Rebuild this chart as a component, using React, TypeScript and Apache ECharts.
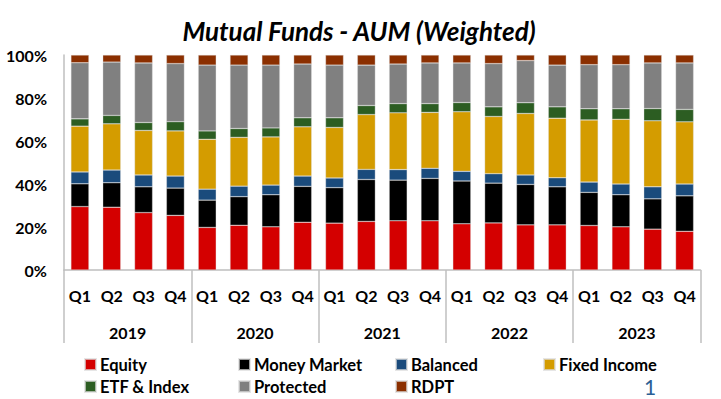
import React, { useEffect, useRef } from "react";
import * as echarts from "echarts";

const quarters = ["Q1","Q2","Q3","Q4","Q1","Q2","Q3","Q4","Q1","Q2","Q3","Q4","Q1","Q2","Q3","Q4","Q1","Q2","Q3","Q4"];
const years = ["2019", "2020", "2021", "2022", "2023"];

const equity = [29.5, 29.2, 26.7, 25.4, 19.8, 20.8, 20.1, 22.2, 21.8, 22.6, 22.9, 22.9, 21.5, 21.9, 21.0, 21.0, 20.7, 20.1, 19.0, 18.0];
const moneyMarket = [10.6, 11.4, 12.0, 12.7, 12.7, 13.3, 14.9, 16.7, 16.5, 19.5, 18.9, 19.7, 19.9, 18.5, 18.8, 17.7, 15.4, 14.9, 14.1, 16.5];
const balanced = [5.5, 5.9, 5.5, 5.6, 5.1, 4.9, 4.5, 4.8, 4.5, 4.7, 4.9, 4.7, 4.5, 4.4, 4.4, 4.2, 4.8, 5.0, 5.6, 5.5];
const fixedIncome = [21.3, 21.5, 20.7, 21.0, 23.2, 22.7, 22.4, 22.9, 23.5, 25.5, 26.4, 26.0, 27.7, 26.6, 28.6, 27.7, 28.9, 30.1, 30.7, 28.9];
const etfIndex = [3.4, 3.9, 3.7, 4.3, 3.9, 4.1, 4.2, 4.2, 4.5, 4.2, 4.3, 4.1, 4.3, 4.5, 5.0, 5.3, 5.2, 4.9, 5.7, 5.8];
const protectedF = [26.1, 24.8, 27.7, 27.0, 30.6, 29.5, 29.2, 25.0, 24.5, 18.8, 18.4, 18.9, 18.4, 20.1, 19.6, 19.4, 20.5, 20.5, 21.2, 21.6];
const rdpt = [3.6, 3.3, 3.7, 4.0, 4.7, 4.7, 4.7, 4.2, 4.7, 4.7, 4.2, 3.7, 3.7, 4.0, 2.6, 4.7, 4.5, 4.5, 3.7, 3.7];

const seriesNames = ["Equity", "Money Market", "Balanced", "Fixed Income", "ETF & Index", "Protected", "RDPT"];
const seriesData = [equity, moneyMarket, balanced, fixedIncome, etfIndex, protectedF, rdpt];
const seriesColors = ["#d40000", "#000000", "#1a4b7c", "#d49c00", "#2c5d22", "#808080", "#8b2f00"];

const legendPos = [
  { left: 84, top: 356 },
  { left: 238, top: 356 },
  { left: 395, top: 356 },
  { left: 543, top: 356 },
  { left: 84, top: 378 },
  { left: 238, top: 378 },
  { left: 395, top: 378 },
];

const FONT = "Lato, 'Open Sans', sans-serif";

export default function App() {
  const ref = useRef<HTMLDivElement>(null);
  useEffect(() => {
    if (!ref.current) return;
    const chart = echarts.init(ref.current, undefined, { renderer: "svg" });
    chart.setOption({
      animation: false,
      backgroundColor: "#ffffff",
      title: {
        text: "Mutual Funds - AUM (Weighted)",
        left: 354,
        textAlign: "center",
        top: 13,
        textStyle: { fontFamily: FONT, fontSize: 26, fontWeight: "bold", fontStyle: "italic", color: "#000" },
      },
      grid: { left: 64, right: 20.5, top: 55, bottom: 129, containLabel: false },
      legend: seriesNames.map((n, i) => ({
        data: [n],
        left: legendPos[i].left,
        top: legendPos[i].top,
        padding: 0,
        icon: "rect",
        itemWidth: 11,
        itemHeight: 11,
        selectedMode: false,
        textStyle: { fontFamily: FONT, fontSize: 16.5, fontWeight: "bold", color: "#000", lineHeight: 14, padding: [0, 0, 0, -1] },
      })),
      xAxis: [
        {
          type: "category",
          data: quarters,
          position: "bottom",
          axisLine: { show: true, lineStyle: { color: "#bfbfbf", width: 1.5 } },
          axisTick: { show: false },
          axisLabel: { margin: 17, fontFamily: FONT, fontSize: 16, fontWeight: "bold", color: "#000", interval: 0 },
        },
        {
          type: "category",
          data: years,
          position: "bottom",
          axisLine: { show: false },
          axisTick: { show: true, length: 73, lineStyle: { color: "#bfbfbf", width: 1.5 } },
          axisLabel: { margin: 54, fontFamily: FONT, fontSize: 16, fontWeight: "bold", color: "#000", interval: 0 },
        },
      ],
      yAxis: {
        type: "value",
        min: 0,
        max: 100,
        interval: 20,
        axisLine: { show: true, lineStyle: { color: "#bfbfbf", width: 1.5 } },
        axisTick: { show: false },
        splitLine: { show: false },
        axisLabel: { formatter: "{value}%", margin: 17, fontFamily: FONT, fontSize: 16, fontWeight: "bold", color: "#000" },
      },
      series: seriesNames.map((n, i) => ({
        name: n,
        type: "bar",
        stack: "total",
        xAxisIndex: 0,
        barWidth: 18,
        data: seriesData[i],
        itemStyle: { color: seriesColors[i], borderColor: "rgba(220,220,220,0.7)", borderWidth: 0.5 },
      })),
      graphic: [
        {
          type: "text",
          left: 644,
          top: 376,
          style: { text: "1", fontFamily: FONT, fontSize: 21, lineHeight: 21, fill: "#2b5f95" },
        },
      ],
    });
    return () => chart.dispose();
  }, []);
  return <div ref={ref} style={{ width: 721, height: 399, position: "absolute", left: 0, top: 0 }} />;
}
